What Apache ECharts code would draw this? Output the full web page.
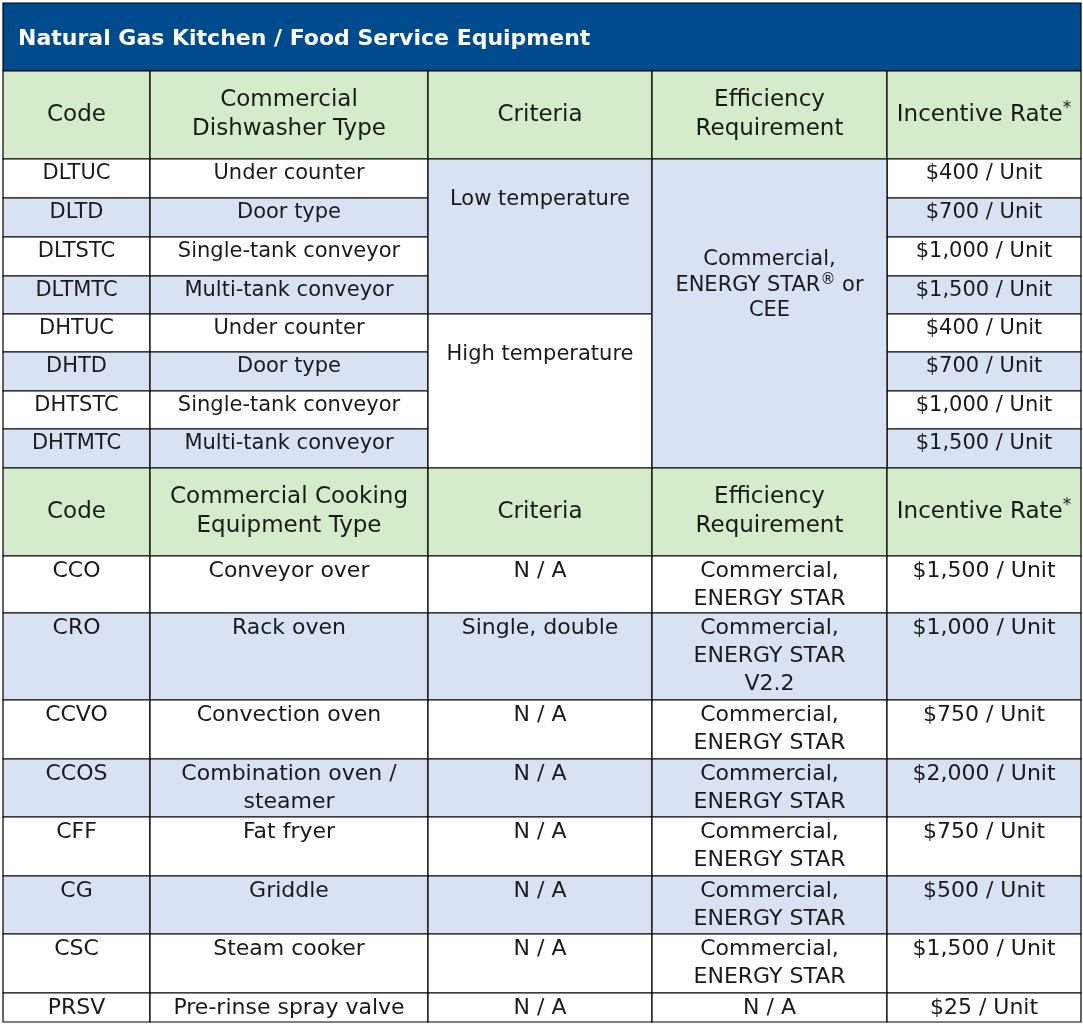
<!DOCTYPE html>
<html>
<head>
<meta charset="utf-8">
<script src="https://cdn.jsdelivr.net/npm/echarts@6/dist/echarts.min.js"></script>
<style>
  html, body { margin: 0; padding: 0; background: #fff; }
  #chart { width: 1083px; height: 1027px; }
</style>
</head>
<body>
<div id="chart"></div>
<script>
// table content
const titleText = "Natural Gas Kitchen / Food Service Equipment";

const dishHeaders = ["Code", "Commercial\nDishwasher Type", "Criteria", "Efficiency\nRequirement", "Incentive Rate{sup|*}"];
const dishCodes = ["DLTUC", "DLTD", "DLTSTC", "DLTMTC", "DHTUC", "DHTD", "DHTSTC", "DHTMTC"];
const dishTypes = ["Under counter", "Door type", "Single-tank conveyor", "Multi-tank conveyor",
  "Under counter", "Door type", "Single-tank conveyor", "Multi-tank conveyor"];
const dishCriteria = ["Low temperature", "High temperature"]; // 4 rows each
const dishEfficiency = "Commercial,\nENERGY STAR{sup|®} or\nCEE"; // all 8 rows
const dishRates = ["$400 / Unit", "$700 / Unit", "$1,000 / Unit", "$1,500 / Unit",
  "$400 / Unit", "$700 / Unit", "$1,000 / Unit", "$1,500 / Unit"];

const cookHeaders = ["Code", "Commercial Cooking\nEquipment Type", "Criteria", "Efficiency\nRequirement", "Incentive Rate{sup|*}"];
const cookCodes = ["CCO", "CRO", "CCVO", "CCOS", "CFF", "CG", "CSC", "PRSV"];
const cookTypes = ["Conveyor over", "Rack oven", "Convection oven", "Combination oven /\nsteamer",
  "Fat fryer", "Griddle", "Steam cooker", "Pre-rinse spray valve"];
const cookCriteria = ["N / A", "Single, double", "N / A", "N / A", "N / A", "N / A", "N / A", "N / A"];
const cookEfficiency = ["Commercial,\nENERGY STAR", "Commercial,\nENERGY STAR\nV2.2", "Commercial,\nENERGY STAR",
  "Commercial,\nENERGY STAR", "Commercial,\nENERGY STAR", "Commercial,\nENERGY STAR", "Commercial,\nENERGY STAR", "N / A"];
const cookRates = ["$1,500 / Unit", "$1,000 / Unit", "$750 / Unit", "$2,000 / Unit",
  "$750 / Unit", "$500 / Unit", "$1,500 / Unit", "$25 / Unit"];

// layout (px in table units)
const colWidths = [147, 278, 224, 235, 194];
const rowHeights = [68, 88, 39, 39, 39, 38, 38, 39, 38, 39, 88, 57, 87, 59, 58, 59, 58, 59, 29];

const BLUE = "#004b8d", GREEN = "#d5ecca", SHADE = "#d9e2f3", WHITE = "#ffffff";
const FONT = "DejaVu Sans";

const colEdge = [0];
colWidths.forEach((w, i) => colEdge.push(colEdge[i] + w));
const rowEdge = [0];
rowHeights.forEach((h, i) => rowEdge.push(rowEdge[i] + h));

const cells = [];
function cell(c, r, cs, rs, text, fill, opt) {
  cells.push(Object.assign({ c, r, cs, rs, text, fill, size: 21, lh: 26, pad: 2, valign: "top", align: "center" }, opt || {}));
}

// title bar
cell(0, 0, 5, 1, titleText, BLUE, { align: "left", valign: "middle", size: 22, bold: true, color: "#fff", dy: 2 });

// dishwasher block
dishHeaders.forEach((t, i) => cell(i, 1, 1, 1, t, GREEN, { valign: "middle", size: 23, lh: 29 }));
dishCodes.forEach((t, i) => {
  const r = 2 + i, fill = i % 2 ? SHADE : WHITE;
  cell(0, r, 1, 1, t, fill);
  cell(1, r, 1, 1, dishTypes[i], fill);
  cell(4, r, 1, 1, dishRates[i], fill);
});
cell(2, 2, 1, 4, dishCriteria[0], SHADE, { pad: 28 });
cell(2, 6, 1, 4, dishCriteria[1], WHITE, { pad: 28 });
cell(3, 2, 1, 8, dishEfficiency, SHADE, { pad: 88, lh: 25.5 });

// cooking block
cookHeaders.forEach((t, i) => cell(i, 10, 1, 1, t, GREEN, { valign: "middle", size: 23, lh: 29 }));
cookCodes.forEach((t, i) => {
  const r = 11 + i, fill = (i % 2 && i < 7) ? SHADE : WHITE;
  const o = { size: 22, lh: 28, pad: 1 };
  cell(0, r, 1, 1, t, fill, o);
  cell(1, r, 1, 1, cookTypes[i], fill, o);
  cell(2, r, 1, 1, cookCriteria[i], fill, o);
  cell(3, r, 1, 1, cookEfficiency[i], fill, o);
  cell(4, r, 1, 1, cookRates[i], fill, o);
});

const data = cells.map(d => [colEdge[d.c], colEdge[d.c + d.cs], rowEdge[d.r], rowEdge[d.r + d.rs]]);

const chart = echarts.init(document.getElementById("chart"), null, { renderer: "canvas" });
chart.setOption({
  animation: false,
  grid: { left: 3, top: 3, width: colEdge[5], height: rowEdge[rowEdge.length - 1] },
  xAxis: { type: "value", min: 0, max: colEdge[5], show: false },
  yAxis: { type: "value", min: 0, max: rowEdge[rowEdge.length - 1], inverse: true, show: false },
  series: [{
    type: "custom",
    silent: true,
    data: data,
    renderItem(params, api) {
      const d = cells[params.dataIndex];
      const p0 = api.coord([api.value(0), api.value(2)]);
      const p1 = api.coord([api.value(1), api.value(3)]);
      const w = p1[0] - p0[0], h = p1[1] - p0[1];
      const tx = d.align === "left" ? p0[0] + 15 : p0[0] + w / 2;
      const ty = (d.valign === "middle" ? p0[1] + h / 2 : p0[1] + d.pad) + (d.dy || 0);
      return {
        type: "group",
        children: [
          {
            type: "rect",
            shape: { x: p0[0], y: p0[1], width: w, height: h },
            style: { fill: d.fill, stroke: "#000", lineWidth: 1.2 }
          },
          {
            type: "text",
            x: tx, y: ty,
            style: {
              text: d.text,
              fill: d.color || "#1a1a1a",
              fontFamily: FONT,
              fontSize: d.size,
              fontWeight: d.bold ? "bold" : "normal",
              lineHeight: d.lh,
              align: d.align,
              verticalAlign: d.valign,
              rich: {
                sup: { fontSize: Math.round(d.size * 0.72), fontFamily: FONT, fill: "#1a1a1a", verticalAlign: "top", lineHeight: d.lh }
              }
            }
          }
        ]
      };
    }
  }]
});
</script>
</body>
</html>
